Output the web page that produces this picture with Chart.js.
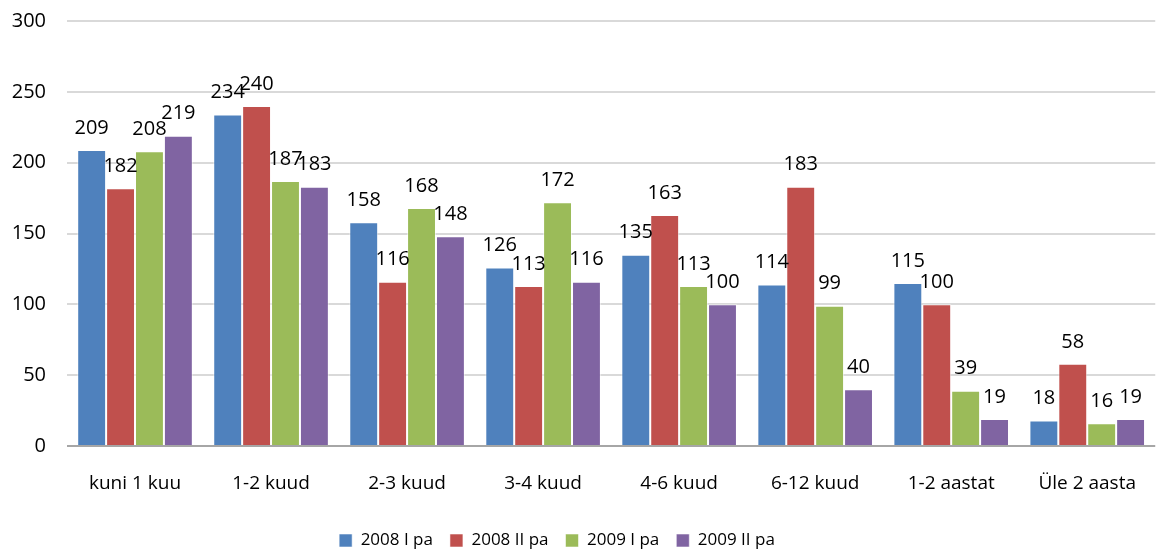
<!DOCTYPE html>
<html>
<head>
<meta charset="utf-8">
<script src="https://cdn.jsdelivr.net/npm/chart.js@4/dist/chart.umd.min.js"></script>
<style>
html,body{margin:0;padding:0;background:#fff;}
#wrap{width:1162px;height:549px;}
</style>
</head>
<body>
<div id="wrap"><canvas id="c" width="1162" height="549"></canvas></div>
<script>
const categories = ["kuni 1 kuu","1-2 kuud","2-3 kuud","3-4 kuud","4-6 kuud","6-12 kuud","1-2 aastat","Üle 2 aasta"];
const seriesNames = ["2008 I pa","2008 II pa","2009 I pa","2009 II pa"];
const s2008I  = [209,234,158,126,135,114,115,18];
const s2008II = [182,240,116,113,163,183,100,58];
const s2009I  = [208,187,168,172,113,99,39,16];
const s2009II = [219,183,148,116,100,40,19,19];
const yTicks = [0,50,100,150,200,250,300];
const colors = ["#4F81BD","#C0504D","#9BBB59","#8064A2"];
const FONT = "'Open Sans', sans-serif";

const labelPlugin = {
  id:'barLabels',
  afterLayout(chart){
    // shift the legend block slightly left, as in the reference
    if (chart.legend) { chart.legend.right -= 48; }
  },
  afterDatasetsDraw(chart){
    const ctx = chart.ctx;
    ctx.save();
    ctx.font = "20px " + FONT;
    ctx.fillStyle = "#000";
    ctx.textAlign = "center";
    ctx.textBaseline = "middle";
    chart.data.datasets.forEach((ds,i)=>{
      const meta = chart.getDatasetMeta(i);
      meta.data.forEach((bar,j)=>{
        ctx.fillText(String(ds.data[j]), bar.x, bar.y - 22);
      });
    });
    ctx.restore();
  }
};

const allSeries = [s2008I,s2008II,s2009I,s2009II];
new Chart(document.getElementById('c'),{
  type:'bar',
  data:{
    labels:categories,
    datasets: allSeries.map((d,i)=>({
      label:seriesNames[i],
      data:d,
      backgroundColor:colors[i],
      borderColor:'rgba(255,255,255,0.55)',
      borderWidth:1,
      categoryPercentage:0.85,
      barPercentage:1
    }))
  },
  options:{
    responsive:false,
    animation:false,
    devicePixelRatio:1,
    layout:{padding:{top:21,right:0,left:0,bottom:-10}},
    plugins:{
      tooltip:{enabled:false},
      legend:{
        position:'bottom',
        labels:{
          font:{family:FONT,size:17},
          color:'#000',
          boxWidth:13,
          boxHeight:13,
          padding:17
        }
      }
    },
    scales:{
      y:{
        min:0,max:300,
        afterBuildTicks(scale){ scale.ticks = yTicks.map(v=>({value:v})); },
        afterFit(scale){ scale.width = 67; scale.paddingTop = 10; scale.paddingBottom = 10; },
        ticks:{font:{family:FONT,size:20},color:'#000',padding:21},
        grid:{
          drawTicks:false,
          lineWidth:2,
          color:(c)=> c.tick && c.tick.value===0 ? '#a6a6a6' : '#d9d9d9'
        },
        border:{display:false}
      },
      x:{
        afterFit(scale){ scale.height = 69; },
        ticks:{font:{family:FONT,size:19},color:'#000',padding:26},
        grid:{display:false,drawTicks:false},
        border:{display:false}
      }
    }
  },
  plugins:[labelPlugin]
});
</script>
</body>
</html>
